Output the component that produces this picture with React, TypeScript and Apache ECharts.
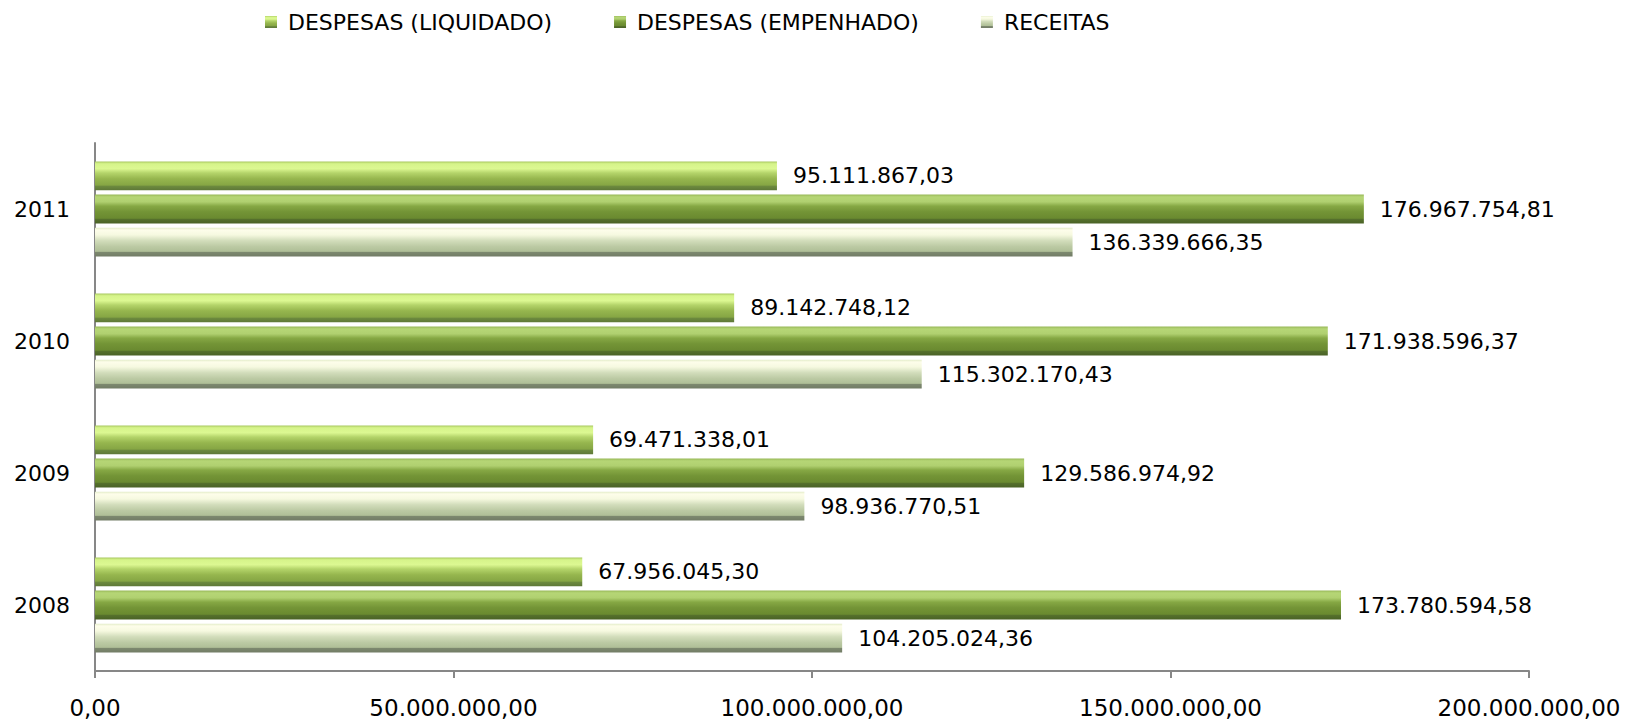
import React, { useEffect, useRef } from "react";
import * as echarts from "echarts";

const categories = ["2008", "2009", "2010", "2011"];
const seriesNames = ["DESPESAS (LIQUIDADO)", "DESPESAS (EMPENHADO)", "RECEITAS"];
const liquidado = [67956045.3, 69471338.01, 89142748.12, 95111867.03];
const empenhado = [173780594.58, 129586974.92, 171938596.37, 176967754.81];
const receitas = [104205024.36, 98936770.51, 115302170.43, 136339666.35];

const fmt = (v: number) => {
  const [i, d] = v.toFixed(2).split(".");
  return i.replace(/\B(?=(\d{3})+(?!\d))/g, ".") + "," + d;
};

const grad = (stops: [number, string][]) =>
  new echarts.graphic.LinearGradient(
    0, 0, 0, 1,
    stops.map(([offset, color]) => ({ offset, color }))
  );

const gradients = [
  grad([
    [0, "#a8c860"],
    [0.08, "#d6f48a"],
    [0.25, "#dcf892"],
    [0.4, "#b4d46a"],
    [0.6, "#96b64e"],
    [0.82, "#86a644"],
    [0.86, "#6c8a3e"],
    [1, "#5e7838"],
  ]),
  grad([
    [0, "#98b858"],
    [0.08, "#b6d676"],
    [0.25, "#b0d070"],
    [0.4, "#86a844"],
    [0.6, "#739436"],
    [0.82, "#6a8a30"],
    [0.86, "#55702c"],
    [1, "#4a6226"],
  ]),
  grad([
    [0, "#e2ecc8"],
    [0.08, "#fdfdea"],
    [0.25, "#f6f9e0"],
    [0.45, "#d2ddbb"],
    [0.65, "#bccaa4"],
    [0.82, "#afbf97"],
    [0.86, "#7c886e"],
    [1, "#727c66"],
  ]),
];

const dataSets = [liquidado, empenhado, receitas];

export default function App() {
  const ref = useRef<HTMLDivElement>(null);
  useEffect(() => {
    document.body.style.margin = "0";
    const chart = echarts.init(ref.current!, null, { renderer: "svg" });
    const font = "DejaVu Sans";
    chart.setOption({
      animation: false,
      backgroundColor: "#ffffff",
      legend: {
        data: seriesNames,
        left: 260,
        top: 6,
        itemWidth: 12,
        itemHeight: 12,
        itemGap: 62,
        icon: "rect",
        textStyle: {
          fontFamily: font,
          fontSize: 22,
          color: "#000",
          padding: [0, 0, 0, 6],
        },
      },
      grid: { left: 95, right: 96, top: 143, bottom: 47, containLabel: false },
      xAxis: {
        type: "value",
        min: 0,
        max: 200000000,
        interval: 50000000,
        splitLine: { show: false },
        axisLine: { show: true, lineStyle: { color: "#878787", width: 2 } },
        axisTick: { show: true, length: 7, lineStyle: { color: "#878787", width: 2 } },
        axisLabel: {
          margin: 25,
          fontFamily: font,
          fontSize: 23,
          color: "#000",
          formatter: (v: number) => fmt(v),
        },
      },
      yAxis: {
        type: "category",
        data: categories,
        axisLine: { show: true, lineStyle: { color: "#878787", width: 2 } },
        axisTick: { show: false },
        axisLabel: { margin: 25, fontFamily: font, fontSize: 22, color: "#000" },
      },
      series: seriesNames.map((name, i) => ({
        name,
        type: "bar",
        data: dataSets[i],
        barCategoryGap: "28%",
        barGap: "15%",
        itemStyle: { color: gradients[i] },
        label: {
          show: true,
          position: "right",
          distance: 16,
          fontFamily: font,
          fontSize: 22,
          color: "#000",
          formatter: (p: any) => fmt(p.value),
        },
      })),
    });
    return () => chart.dispose();
  }, []);
  return (
    <div
      ref={ref}
      style={{ position: "absolute", left: 0, top: 0, width: 1625, height: 719 }}
    />
  );
}
